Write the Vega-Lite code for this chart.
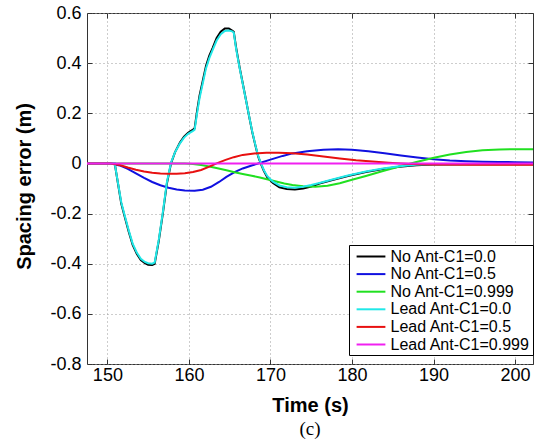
{
  "$schema": "https://vega.github.io/schema/vega-lite/v6.json",
  "width": 446,
  "height": 351,
  "autosize": {"type": "none"},
  "padding": {"left": 87, "top": 13, "right": 12, "bottom": 80},
  "title": {"text": "(c)", "orient": "bottom", "font": "Liberation Serif", "fontSize": 19, "fontWeight": "normal", "color": "#000", "offset": 5},
  "config": {
    "font": "Liberation Sans",
    "view": {"stroke": "#333", "strokeWidth": 1}
  },
  "data": {"values": [
    {"s": "No Ant-C1=0.0", "t": 147.5, "v": 0},
    {"s": "No Ant-C1=0.0", "t": 150.9, "v": 0},
    {"s": "No Ant-C1=0.0", "t": 151.3, "v": -0.08},
    {"s": "No Ant-C1=0.0", "t": 151.7, "v": -0.16},
    {"s": "No Ant-C1=0.0", "t": 152.1, "v": -0.21},
    {"s": "No Ant-C1=0.0", "t": 152.6, "v": -0.27},
    {"s": "No Ant-C1=0.0", "t": 153.1, "v": -0.325},
    {"s": "No Ant-C1=0.0", "t": 153.6, "v": -0.36},
    {"s": "No Ant-C1=0.0", "t": 154.1, "v": -0.385},
    {"s": "No Ant-C1=0.0", "t": 154.6, "v": -0.398},
    {"s": "No Ant-C1=0.0", "t": 155.0, "v": -0.404},
    {"s": "No Ant-C1=0.0", "t": 155.5, "v": -0.405},
    {"s": "No Ant-C1=0.0", "t": 155.8, "v": -0.4},
    {"s": "No Ant-C1=0.0", "t": 156.3, "v": -0.31},
    {"s": "No Ant-C1=0.0", "t": 156.8, "v": -0.2},
    {"s": "No Ant-C1=0.0", "t": 157.3, "v": -0.08},
    {"s": "No Ant-C1=0.0", "t": 157.8, "v": 0.0},
    {"s": "No Ant-C1=0.0", "t": 158.3, "v": 0.045},
    {"s": "No Ant-C1=0.0", "t": 158.9, "v": 0.083},
    {"s": "No Ant-C1=0.0", "t": 159.4, "v": 0.107},
    {"s": "No Ant-C1=0.0", "t": 159.9, "v": 0.122},
    {"s": "No Ant-C1=0.0", "t": 160.5, "v": 0.135},
    {"s": "No Ant-C1=0.0", "t": 160.7, "v": 0.14},
    {"s": "No Ant-C1=0.0", "t": 161.0, "v": 0.21},
    {"s": "No Ant-C1=0.0", "t": 161.3, "v": 0.27},
    {"s": "No Ant-C1=0.0", "t": 161.7, "v": 0.33},
    {"s": "No Ant-C1=0.0", "t": 162.1, "v": 0.39},
    {"s": "No Ant-C1=0.0", "t": 162.5, "v": 0.43},
    {"s": "No Ant-C1=0.0", "t": 162.9, "v": 0.46},
    {"s": "No Ant-C1=0.0", "t": 163.4, "v": 0.5},
    {"s": "No Ant-C1=0.0", "t": 163.9, "v": 0.525},
    {"s": "No Ant-C1=0.0", "t": 164.4, "v": 0.538},
    {"s": "No Ant-C1=0.0", "t": 164.9, "v": 0.538},
    {"s": "No Ant-C1=0.0", "t": 165.3, "v": 0.53},
    {"s": "No Ant-C1=0.0", "t": 165.5, "v": 0.525},
    {"s": "No Ant-C1=0.0", "t": 165.8, "v": 0.46},
    {"s": "No Ant-C1=0.0", "t": 166.2, "v": 0.386},
    {"s": "No Ant-C1=0.0", "t": 166.6, "v": 0.32},
    {"s": "No Ant-C1=0.0", "t": 167.0, "v": 0.253},
    {"s": "No Ant-C1=0.0", "t": 167.4, "v": 0.185},
    {"s": "No Ant-C1=0.0", "t": 167.8, "v": 0.12},
    {"s": "No Ant-C1=0.0", "t": 168.2, "v": 0.065},
    {"s": "No Ant-C1=0.0", "t": 168.5, "v": 0.027},
    {"s": "No Ant-C1=0.0", "t": 168.8, "v": 0.0},
    {"s": "No Ant-C1=0.0", "t": 169.2, "v": -0.03},
    {"s": "No Ant-C1=0.0", "t": 169.6, "v": -0.055},
    {"s": "No Ant-C1=0.0", "t": 170.3, "v": -0.078},
    {"s": "No Ant-C1=0.0", "t": 171.1, "v": -0.095},
    {"s": "No Ant-C1=0.0", "t": 172.0, "v": -0.102},
    {"s": "No Ant-C1=0.0", "t": 173.0, "v": -0.104},
    {"s": "No Ant-C1=0.0", "t": 174.0, "v": -0.1},
    {"s": "No Ant-C1=0.0", "t": 175.0, "v": -0.092},
    {"s": "No Ant-C1=0.0", "t": 176.0, "v": -0.08},
    {"s": "No Ant-C1=0.0", "t": 177.6, "v": -0.066},
    {"s": "No Ant-C1=0.0", "t": 179.5, "v": -0.05},
    {"s": "No Ant-C1=0.0", "t": 181.7, "v": -0.034},
    {"s": "No Ant-C1=0.0", "t": 183.8, "v": -0.022},
    {"s": "No Ant-C1=0.0", "t": 185.8, "v": -0.013},
    {"s": "No Ant-C1=0.0", "t": 187.9, "v": -0.007},
    {"s": "No Ant-C1=0.0", "t": 189.9, "v": -0.004},
    {"s": "No Ant-C1=0.0", "t": 195.0, "v": -0.003},
    {"s": "No Ant-C1=0.0", "t": 202.2, "v": -0.003},

    {"s": "No Ant-C1=0.5", "t": 147.5, "v": 0},
    {"s": "No Ant-C1=0.5", "t": 150.4, "v": 0},
    {"s": "No Ant-C1=0.5", "t": 151.5, "v": -0.008},
    {"s": "No Ant-C1=0.5", "t": 152.5, "v": -0.022},
    {"s": "No Ant-C1=0.5", "t": 153.5, "v": -0.04},
    {"s": "No Ant-C1=0.5", "t": 154.5, "v": -0.058},
    {"s": "No Ant-C1=0.5", "t": 155.5, "v": -0.074},
    {"s": "No Ant-C1=0.5", "t": 156.5, "v": -0.087},
    {"s": "No Ant-C1=0.5", "t": 157.5, "v": -0.097},
    {"s": "No Ant-C1=0.5", "t": 158.5, "v": -0.104},
    {"s": "No Ant-C1=0.5", "t": 159.5, "v": -0.108},
    {"s": "No Ant-C1=0.5", "t": 160.7, "v": -0.109},
    {"s": "No Ant-C1=0.5", "t": 161.7, "v": -0.105},
    {"s": "No Ant-C1=0.5", "t": 162.7, "v": -0.093},
    {"s": "No Ant-C1=0.5", "t": 163.7, "v": -0.074},
    {"s": "No Ant-C1=0.5", "t": 164.6, "v": -0.054},
    {"s": "No Ant-C1=0.5", "t": 165.6, "v": -0.035},
    {"s": "No Ant-C1=0.5", "t": 166.6, "v": -0.02},
    {"s": "No Ant-C1=0.5", "t": 167.7, "v": -0.008},
    {"s": "No Ant-C1=0.5", "t": 168.7, "v": 0.002},
    {"s": "No Ant-C1=0.5", "t": 170.0, "v": 0.015},
    {"s": "No Ant-C1=0.5", "t": 171.5, "v": 0.03},
    {"s": "No Ant-C1=0.5", "t": 172.7, "v": 0.04},
    {"s": "No Ant-C1=0.5", "t": 174.5, "v": 0.049},
    {"s": "No Ant-C1=0.5", "t": 176.5, "v": 0.055},
    {"s": "No Ant-C1=0.5", "t": 178.3, "v": 0.057},
    {"s": "No Ant-C1=0.5", "t": 180.0, "v": 0.055},
    {"s": "No Ant-C1=0.5", "t": 182.0, "v": 0.049},
    {"s": "No Ant-C1=0.5", "t": 184.0, "v": 0.041},
    {"s": "No Ant-C1=0.5", "t": 186.0, "v": 0.032},
    {"s": "No Ant-C1=0.5", "t": 188.0, "v": 0.024},
    {"s": "No Ant-C1=0.5", "t": 190.0, "v": 0.017},
    {"s": "No Ant-C1=0.5", "t": 192.0, "v": 0.012},
    {"s": "No Ant-C1=0.5", "t": 194.0, "v": 0.009},
    {"s": "No Ant-C1=0.5", "t": 196.0, "v": 0.007},
    {"s": "No Ant-C1=0.5", "t": 198.0, "v": 0.006},
    {"s": "No Ant-C1=0.5", "t": 200.0, "v": 0.005},
    {"s": "No Ant-C1=0.5", "t": 202.2, "v": 0.004},

    {"s": "No Ant-C1=0.999", "t": 147.5, "v": 0},
    {"s": "No Ant-C1=0.999", "t": 159.5, "v": 0},
    {"s": "No Ant-C1=0.999", "t": 160.5, "v": -0.002},
    {"s": "No Ant-C1=0.999", "t": 161.5, "v": -0.006},
    {"s": "No Ant-C1=0.999", "t": 162.5, "v": -0.012},
    {"s": "No Ant-C1=0.999", "t": 163.5, "v": -0.019},
    {"s": "No Ant-C1=0.999", "t": 164.6, "v": -0.027},
    {"s": "No Ant-C1=0.999", "t": 165.6, "v": -0.035},
    {"s": "No Ant-C1=0.999", "t": 166.6, "v": -0.042},
    {"s": "No Ant-C1=0.999", "t": 167.7, "v": -0.049},
    {"s": "No Ant-C1=0.999", "t": 168.7, "v": -0.056},
    {"s": "No Ant-C1=0.999", "t": 169.7, "v": -0.064},
    {"s": "No Ant-C1=0.999", "t": 170.7, "v": -0.072},
    {"s": "No Ant-C1=0.999", "t": 171.7, "v": -0.08},
    {"s": "No Ant-C1=0.999", "t": 172.7, "v": -0.086},
    {"s": "No Ant-C1=0.999", "t": 174.0, "v": -0.091},
    {"s": "No Ant-C1=0.999", "t": 175.5, "v": -0.093},
    {"s": "No Ant-C1=0.999", "t": 177.0, "v": -0.089},
    {"s": "No Ant-C1=0.999", "t": 178.5, "v": -0.079},
    {"s": "No Ant-C1=0.999", "t": 180.0, "v": -0.065},
    {"s": "No Ant-C1=0.999", "t": 181.7, "v": -0.05},
    {"s": "No Ant-C1=0.999", "t": 183.8, "v": -0.03},
    {"s": "No Ant-C1=0.999", "t": 185.8, "v": -0.012},
    {"s": "No Ant-C1=0.999", "t": 187.9, "v": 0.006},
    {"s": "No Ant-C1=0.999", "t": 189.9, "v": 0.022},
    {"s": "No Ant-C1=0.999", "t": 192.0, "v": 0.036},
    {"s": "No Ant-C1=0.999", "t": 194.0, "v": 0.046},
    {"s": "No Ant-C1=0.999", "t": 196.0, "v": 0.053},
    {"s": "No Ant-C1=0.999", "t": 198.1, "v": 0.056},
    {"s": "No Ant-C1=0.999", "t": 200.0, "v": 0.057},
    {"s": "No Ant-C1=0.999", "t": 202.2, "v": 0.057},

    {"s": "Lead Ant-C1=0.0", "t": 147.5, "v": 0},
    {"s": "Lead Ant-C1=0.0", "t": 150.9, "v": 0},
    {"s": "Lead Ant-C1=0.0", "t": 151.3, "v": -0.078},
    {"s": "Lead Ant-C1=0.0", "t": 151.7, "v": -0.155},
    {"s": "Lead Ant-C1=0.0", "t": 152.1, "v": -0.205},
    {"s": "Lead Ant-C1=0.0", "t": 152.6, "v": -0.265},
    {"s": "Lead Ant-C1=0.0", "t": 153.1, "v": -0.32},
    {"s": "Lead Ant-C1=0.0", "t": 153.6, "v": -0.355},
    {"s": "Lead Ant-C1=0.0", "t": 154.1, "v": -0.38},
    {"s": "Lead Ant-C1=0.0", "t": 154.6, "v": -0.393},
    {"s": "Lead Ant-C1=0.0", "t": 155.0, "v": -0.398},
    {"s": "Lead Ant-C1=0.0", "t": 155.5, "v": -0.4},
    {"s": "Lead Ant-C1=0.0", "t": 155.8, "v": -0.395},
    {"s": "Lead Ant-C1=0.0", "t": 156.3, "v": -0.305},
    {"s": "Lead Ant-C1=0.0", "t": 156.8, "v": -0.195},
    {"s": "Lead Ant-C1=0.0", "t": 157.3, "v": -0.075},
    {"s": "Lead Ant-C1=0.0", "t": 157.8, "v": 0.003},
    {"s": "Lead Ant-C1=0.0", "t": 158.3, "v": 0.045},
    {"s": "Lead Ant-C1=0.0", "t": 158.9, "v": 0.08},
    {"s": "Lead Ant-C1=0.0", "t": 159.4, "v": 0.103},
    {"s": "Lead Ant-C1=0.0", "t": 159.9, "v": 0.118},
    {"s": "Lead Ant-C1=0.0", "t": 160.5, "v": 0.13},
    {"s": "Lead Ant-C1=0.0", "t": 160.7, "v": 0.135},
    {"s": "Lead Ant-C1=0.0", "t": 161.0, "v": 0.2},
    {"s": "Lead Ant-C1=0.0", "t": 161.3, "v": 0.26},
    {"s": "Lead Ant-C1=0.0", "t": 161.7, "v": 0.32},
    {"s": "Lead Ant-C1=0.0", "t": 162.1, "v": 0.38},
    {"s": "Lead Ant-C1=0.0", "t": 162.5, "v": 0.42},
    {"s": "Lead Ant-C1=0.0", "t": 162.9, "v": 0.452},
    {"s": "Lead Ant-C1=0.0", "t": 163.4, "v": 0.49},
    {"s": "Lead Ant-C1=0.0", "t": 163.9, "v": 0.515},
    {"s": "Lead Ant-C1=0.0", "t": 164.4, "v": 0.528},
    {"s": "Lead Ant-C1=0.0", "t": 164.9, "v": 0.53},
    {"s": "Lead Ant-C1=0.0", "t": 165.3, "v": 0.527},
    {"s": "Lead Ant-C1=0.0", "t": 165.5, "v": 0.522},
    {"s": "Lead Ant-C1=0.0", "t": 165.8, "v": 0.455},
    {"s": "Lead Ant-C1=0.0", "t": 166.2, "v": 0.383},
    {"s": "Lead Ant-C1=0.0", "t": 166.6, "v": 0.318},
    {"s": "Lead Ant-C1=0.0", "t": 167.0, "v": 0.252},
    {"s": "Lead Ant-C1=0.0", "t": 167.4, "v": 0.186},
    {"s": "Lead Ant-C1=0.0", "t": 167.8, "v": 0.122},
    {"s": "Lead Ant-C1=0.0", "t": 168.2, "v": 0.067},
    {"s": "Lead Ant-C1=0.0", "t": 168.5, "v": 0.03},
    {"s": "Lead Ant-C1=0.0", "t": 168.8, "v": 0.003},
    {"s": "Lead Ant-C1=0.0", "t": 169.2, "v": -0.027},
    {"s": "Lead Ant-C1=0.0", "t": 169.6, "v": -0.05},
    {"s": "Lead Ant-C1=0.0", "t": 170.3, "v": -0.073},
    {"s": "Lead Ant-C1=0.0", "t": 171.1, "v": -0.088},
    {"s": "Lead Ant-C1=0.0", "t": 172.0, "v": -0.095},
    {"s": "Lead Ant-C1=0.0", "t": 173.0, "v": -0.097},
    {"s": "Lead Ant-C1=0.0", "t": 174.0, "v": -0.093},
    {"s": "Lead Ant-C1=0.0", "t": 175.0, "v": -0.086},
    {"s": "Lead Ant-C1=0.0", "t": 176.0, "v": -0.078},
    {"s": "Lead Ant-C1=0.0", "t": 177.6, "v": -0.064},
    {"s": "Lead Ant-C1=0.0", "t": 179.5, "v": -0.048},
    {"s": "Lead Ant-C1=0.0", "t": 181.7, "v": -0.032},
    {"s": "Lead Ant-C1=0.0", "t": 183.8, "v": -0.02},
    {"s": "Lead Ant-C1=0.0", "t": 185.8, "v": -0.011},
    {"s": "Lead Ant-C1=0.0", "t": 187.9, "v": -0.005},
    {"s": "Lead Ant-C1=0.0", "t": 189.9, "v": -0.003},
    {"s": "Lead Ant-C1=0.0", "t": 195.0, "v": -0.002},
    {"s": "Lead Ant-C1=0.0", "t": 202.2, "v": -0.002},

    {"s": "Lead Ant-C1=0.5", "t": 147.5, "v": 0},
    {"s": "Lead Ant-C1=0.5", "t": 150.4, "v": 0},
    {"s": "Lead Ant-C1=0.5", "t": 151.5, "v": -0.006},
    {"s": "Lead Ant-C1=0.5", "t": 152.5, "v": -0.016},
    {"s": "Lead Ant-C1=0.5", "t": 153.5, "v": -0.025},
    {"s": "Lead Ant-C1=0.5", "t": 154.5, "v": -0.032},
    {"s": "Lead Ant-C1=0.5", "t": 155.5, "v": -0.037},
    {"s": "Lead Ant-C1=0.5", "t": 156.5, "v": -0.04},
    {"s": "Lead Ant-C1=0.5", "t": 157.5, "v": -0.041},
    {"s": "Lead Ant-C1=0.5", "t": 158.5, "v": -0.041},
    {"s": "Lead Ant-C1=0.5", "t": 159.5, "v": -0.039},
    {"s": "Lead Ant-C1=0.5", "t": 160.5, "v": -0.034},
    {"s": "Lead Ant-C1=0.5", "t": 161.5, "v": -0.026},
    {"s": "Lead Ant-C1=0.5", "t": 162.5, "v": -0.013},
    {"s": "Lead Ant-C1=0.5", "t": 163.4, "v": 0.0},
    {"s": "Lead Ant-C1=0.5", "t": 164.5, "v": 0.014},
    {"s": "Lead Ant-C1=0.5", "t": 165.5, "v": 0.025},
    {"s": "Lead Ant-C1=0.5", "t": 166.6, "v": 0.034},
    {"s": "Lead Ant-C1=0.5", "t": 168.0, "v": 0.04},
    {"s": "Lead Ant-C1=0.5", "t": 169.5, "v": 0.043},
    {"s": "Lead Ant-C1=0.5", "t": 171.0, "v": 0.043},
    {"s": "Lead Ant-C1=0.5", "t": 172.7, "v": 0.041},
    {"s": "Lead Ant-C1=0.5", "t": 174.5, "v": 0.036},
    {"s": "Lead Ant-C1=0.5", "t": 176.5, "v": 0.028},
    {"s": "Lead Ant-C1=0.5", "t": 178.5, "v": 0.02},
    {"s": "Lead Ant-C1=0.5", "t": 180.5, "v": 0.013},
    {"s": "Lead Ant-C1=0.5", "t": 182.5, "v": 0.008},
    {"s": "Lead Ant-C1=0.5", "t": 184.5, "v": 0.003},
    {"s": "Lead Ant-C1=0.5", "t": 186.0, "v": 0.0},
    {"s": "Lead Ant-C1=0.5", "t": 188.0, "v": -0.003},
    {"s": "Lead Ant-C1=0.5", "t": 190.0, "v": -0.004},
    {"s": "Lead Ant-C1=0.5", "t": 195.0, "v": -0.005},
    {"s": "Lead Ant-C1=0.5", "t": 202.2, "v": -0.005},

    {"s": "Lead Ant-C1=0.999", "t": 147.5, "v": 0},
    {"s": "Lead Ant-C1=0.999", "t": 202.2, "v": 0}
  ]},
  "layer": [
    {
      "mark": {"type": "line", "strokeWidth": 2, "clip": true},
      "encoding": {
        "x": {
          "field": "t", "type": "quantitative",
          "scale": {"domain": [147.5, 202.2], "nice": false, "zero": false},
          "axis": {
            "title": "Time (s)", "values": [150, 160, 170, 180, 190, 200],
            "grid": true, "gridColor": "#9a9a9a", "gridDash": [1, 3], "gridOpacity": 1,
            "domain": false, "tickSize": -5, "tickColor": "#333", "labelPadding": 7,
            "labelFontSize": 18, "labelColor": "#000", "labelFont": "Liberation Sans",
            "titleFont": "Liberation Sans", "titleFontSize": 20, "titleFontWeight": "bold", "titleColor": "#000",
            "titleBaseline": "alphabetic", "titleY": 47
          }
        },
        "y": {
          "field": "v", "type": "quantitative",
          "scale": {"domain": [-0.8, 0.6], "nice": false, "zero": false},
          "axis": {
            "title": "Spacing error (m)", "values": [-0.8, -0.6, -0.4, -0.2, 0, 0.2, 0.4, 0.6],
            "labelExpr": "datum.value == 0 ? '0' : (datum.value < 0 ? '-' : '') + format(abs(datum.value), '.1f')",
            "grid": true, "gridColor": "#9a9a9a", "gridDash": [1, 3], "gridOpacity": 1,
            "domain": false, "tickSize": -5, "tickColor": "#333", "labelPadding": 11,
            "labelFontSize": 18, "labelColor": "#000", "labelFont": "Liberation Sans",
            "titleFont": "Liberation Sans", "titleFontSize": 20, "titleFontWeight": "bold", "titleColor": "#000",
            "titleBaseline": "alphabetic", "titleX": -57, "titleY": 173
          }
        },
        "color": {
          "field": "s", "type": "nominal",
          "scale": {
            "domain": ["No Ant-C1=0.0", "No Ant-C1=0.5", "No Ant-C1=0.999", "Lead Ant-C1=0.0", "Lead Ant-C1=0.5", "Lead Ant-C1=0.999"],
            "range": ["#000000", "#1010e0", "#20e020", "#20e8e8", "#e81010", "#f020f0"]
          },
          "legend": {
            "title": null, "orient": "none", "legendX": 262, "legendY": 232,
            "symbolType": "M-1.8,0H1.8", "symbolSize": 256, "symbolStrokeWidth": 2,
            "labelFontSize": 16, "labelFont": "Liberation Sans", "labelColor": "#000",
            "labelOffset": 10.5, "rowPadding": 0.6, "padding": 2.5, "symbolOffset": 10.5,
            "strokeColor": "#000", "fillColor": "#fff"
          }
        }
      }
    },
    {
      "mark": {"type": "line", "opacity": 0},
      "encoding": {
        "x": {
          "field": "t", "type": "quantitative",
          "scale": {"domain": [147.5, 202.2], "nice": false, "zero": false},
          "axis": {"orient": "top", "title": null, "labels": false, "grid": false, "domain": false,
                   "values": [150, 160, 170, 180, 190, 200], "tickSize": -5, "tickColor": "#333"}
        },
        "y": {
          "field": "v", "type": "quantitative",
          "scale": {"domain": [-0.8, 0.6], "nice": false, "zero": false},
          "axis": {"orient": "right", "title": null, "labels": false, "grid": false, "domain": false,
                   "values": [-0.8, -0.6, -0.4, -0.2, 0, 0.2, 0.4, 0.6], "tickSize": -5, "tickColor": "#333"}
        },
        "detail": {"field": "s", "type": "nominal"}
      }
    }
  ],
  "resolve": {"axis": {"x": "independent", "y": "independent"}}
}
